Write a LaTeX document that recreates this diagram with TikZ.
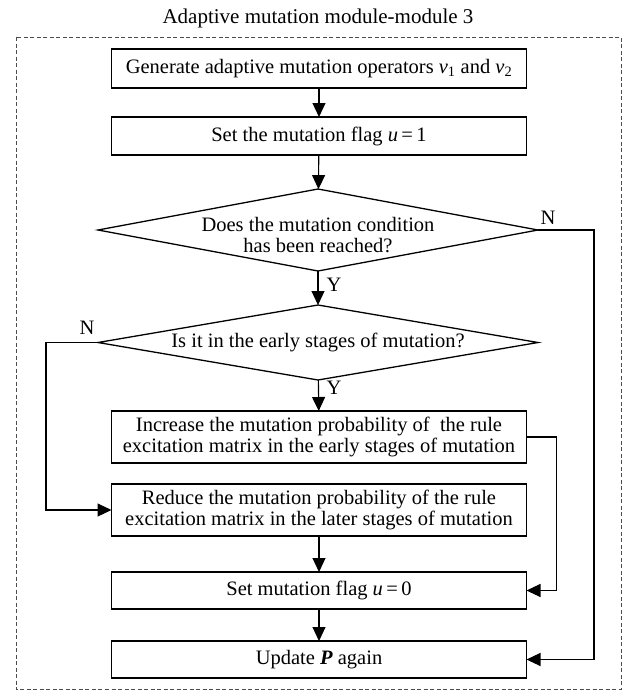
\documentclass[tikz,border=0pt]{standalone}
\usepackage{fontspec}
\setmainfont{Liberation Serif}
\usetikzlibrary{arrows.meta,shapes.geometric}
\begin{document}
\begin{tikzpicture}[x=1pt,y=-1pt,
  font=\fontsize{20.5}{21}\selectfont,
  stepbox/.style={draw, line width=1.3pt, minimum width=415pt, inner sep=0pt, outer sep=0pt, align=center},
  decision/.style={draw, diamond, line width=1.3pt, minimum width=440pt, inner sep=0pt, outer sep=0pt},
  flow/.style={line width=1.1pt, -{Triangle[length=14pt,width=13pt]}},
  lbl/.style={inner sep=0pt}]
\useasboundingbox (0,0) rectangle (627,691);

% module frame and heading
\draw[gray!60!black, line width=1pt, dash pattern=on 4pt off 2.5pt] (16,37) rectangle (621,689);
\node[font=\fontsize{21}{22}\selectfont] (title) at (318,18) {Adaptive mutation module-module 3};

% process steps
\node[stepbox, minimum height=39pt] (b1) at (319,68.5)
  {Generate adaptive mutation operators \textit{v}\textsubscript{1} and \textit{v}\textsubscript{2}};
\node[stepbox, minimum height=38pt] (b2) at (319,136)
  {Set the mutation flag \textit{u}\,=\,1};
\node[decision, minimum height=82pt] (d1) at (318,230) {};
\node[align=center] (d1t) at (318,235) {Does the mutation condition\\has been reached?};
\node[decision, minimum height=75pt] (d2) at (318,342.5) {};
\node (d2t) at (318,342) {Is it in the early stages of mutation?};
\node[stepbox, minimum height=52pt] (b3) at (319,437)
  {Increase the mutation probability of \ the rule\\excitation matrix in the early stages of mutation};
\node[stepbox, minimum height=52pt] (b4) at (319,510)
  {Reduce the mutation probability of the rule\\excitation matrix in the later stages of mutation};
\node[stepbox, minimum height=37pt] (b5) at (319,590.5)
  {Set mutation flag \textit{u}\,=\,0};
\node[stepbox, minimum height=37pt] (b6) at (319,659.5)
  {Update \textbf{\textit{P}} again};

% branch labels
\node[lbl] (y1) at (334,285) {Y};
\node[lbl] (y2) at (334,388) {Y};
\node[lbl] (n1) at (548,218) {N};
\node[lbl] (n2) at (87,328) {N};

% connectors
\draw[flow] (b1) -- (b2);
\draw[flow] (b2) -- (d1);
\draw[flow] (d1) -- (d2);
\draw[flow] (d2) -- (b3);
\draw[flow] (b4) -- (b5);
\draw[flow] (b5) -- (b6);
\draw[flow] (d1.east) -- ++(56,0) |- (b6.east);
\draw[flow] (d2.west) -- ++(-52,0) |- (b4.west);
\draw[flow] (b3.east) -- ++(30,0) |- (b5.east);
\end{tikzpicture}
\end{document}
